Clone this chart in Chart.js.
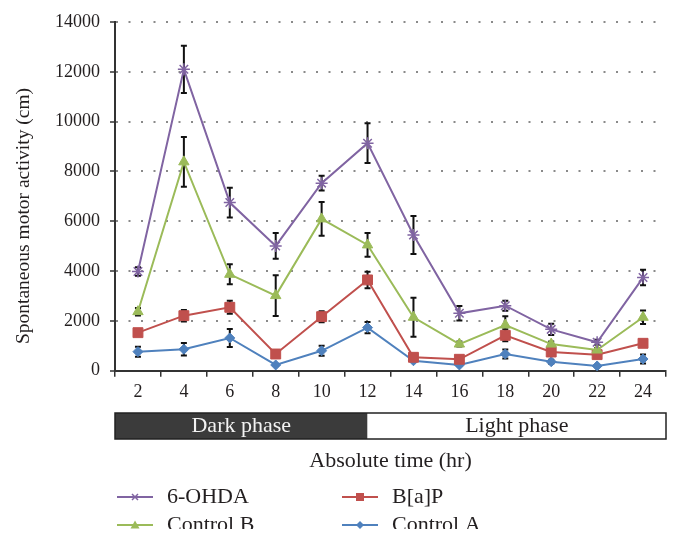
<!DOCTYPE html>
<html>
<head>
<meta charset="utf-8">
<script src="https://cdn.jsdelivr.net/npm/chart.js@4/dist/chart.umd.min.js"></script>
<style>
html,body{margin:0;padding:0;background:#fff;}
#c{display:block;}
</style>
</head>
<body>
<canvas id="c" width="680" height="543"></canvas>
<script>
const hours = ['2','4','6','8','10','12','14','16','18','20','22','24'];
const ohda      = [3980, 12100, 6750, 5010, 7530, 9135, 5450, 2305, 2610, 1660, 1140, 3740];
const ohdaErr   = [170, 950, 600, 520, 300, 800, 760, 290, 200, 230, 100, 310];
const controlB    = [2370, 8385, 3870, 3015, 6095, 5050, 2145, 1070, 1835, 1070, 830, 2145];
const controlBErr = [150, 1000, 400, 820, 680, 480, 780, 100, 350, 100, 80, 270];
const bap      = [1527, 2210, 2545, 670, 2170, 3645, 538, 458, 1420, 750, 645, 1100];
const bapErr   = [130, 230, 260, 80, 220, 330, 50, 50, 240, 100, 80, 0];
const controlA    = [765, 860, 1315, 230, 800, 1730, 400, 230, 670, 360, 190, 470];
const controlAErr = [200, 250, 360, 40, 200, 230, 40, 40, 180, 80, 40, 180];
const yTicks = [0, 2000, 4000, 6000, 8000, 10000, 12000, 14000];
const phases = ['Dark phase', 'Light phase'];
const phaseSplit = '12';
const xTitle = 'Absolute time (hr)';
const yTitle = 'Spontaneous motor activity (cm)';

const FONT = '"Liberation Serif", "Times New Roman", serif';
const TXT = '#231f20';
const PURPLE = '#8064a2', GREEN = '#9bbb59', RED = '#c0504d', BLUE = '#4f81bd';

const errors = [ohdaErr, controlBErr, bapErr, controlAErr];

const errorBars = {
  id: 'errorBars',
  beforeDatasetsDraw(chart) {
    const ctx = chart.ctx, y = chart.scales.y;
    ctx.save();
    ctx.strokeStyle = '#111';
    ctx.lineWidth = 2;
    chart.data.datasets.forEach((ds, i) => {
      const meta = chart.getDatasetMeta(i);
      ds.data.forEach((v, j) => {
        const e = errors[i][j];
        if (!e) return;
        const px = meta.data[j].x;
        const t = y.getPixelForValue(v + e), b = y.getPixelForValue(v - e);
        ctx.beginPath();
        ctx.moveTo(px, t); ctx.lineTo(px, b);
        ctx.moveTo(px - 3, t); ctx.lineTo(px + 3, t);
        ctx.moveTo(px - 3, b); ctx.lineTo(px + 3, b);
        ctx.stroke();
      });
    });
    ctx.restore();
  }
};

function marker(ctx, style, x, y, r, color) {
  ctx.save();
  ctx.fillStyle = color; ctx.strokeStyle = color; ctx.lineWidth = 1.5;
  ctx.beginPath();
  if (style === 'cross') {
    ctx.moveTo(x - r, y - r); ctx.lineTo(x + r, y + r);
    ctx.moveTo(x - r, y + r); ctx.lineTo(x + r, y - r);
    ctx.stroke();
  } else if (style === 'rect') {
    ctx.fillRect(x - r, y - r, 2 * r, 2 * r);
  } else if (style === 'tri') {
    ctx.moveTo(x, y - r); ctx.lineTo(x + r, y + r * 0.8); ctx.lineTo(x - r, y + r * 0.8);
    ctx.closePath(); ctx.fill();
  } else if (style === 'diamond') {
    ctx.moveTo(x, y - r); ctx.lineTo(x + r, y); ctx.lineTo(x, y + r); ctx.lineTo(x - r, y);
    ctx.closePath(); ctx.fill();
  }
  ctx.restore();
}

const decorations = {
  id: 'decorations',
  afterDraw(chart) {
    const ctx = chart.ctx, xs = chart.scales.x;
    const left = xs.left, right = xs.right;
    const split = xs.getPixelForValue(hours.indexOf(phaseSplit));
    const top = 413, h = 26;
    ctx.save();
    // phase band
    ctx.fillStyle = '#3b3b3b';
    ctx.fillRect(left, top, split - left, h);
    ctx.fillStyle = '#fff';
    ctx.fillRect(split, top, right - split, h);
    ctx.strokeStyle = '#222';
    ctx.lineWidth = 1.5;
    ctx.strokeRect(left, top, right - left, h);
    ctx.font = '22px ' + FONT;
    ctx.textAlign = 'center';
    ctx.textBaseline = 'middle';
    ctx.fillStyle = '#f2f2f2';
    ctx.fillText(phases[0], (left + split) / 2, top + h / 2);
    ctx.fillStyle = TXT;
    ctx.fillText(phases[1], (split + right) / 2, top + h / 2);
    // x title
    ctx.fillText(xTitle, (left + right) / 2, 461);
    // y title
    ctx.save();
    ctx.translate(24, 216);
    ctx.rotate(-Math.PI / 2);
    ctx.font = '19.5px ' + FONT;
    ctx.fillText(yTitle, 0, 0);
    ctx.restore();
    // legend
    const items = [
      {label: chart.data.datasets[0].label, color: PURPLE, m: 'cross', r: 3, x: 117, y: 497},
      {label: chart.data.datasets[2].label, color: RED, m: 'rect', r: 4, x: 342, y: 497},
      {label: chart.data.datasets[1].label, color: GREEN, m: 'tri', r: 4.5, x: 117, y: 525},
      {label: chart.data.datasets[3].label, color: BLUE, m: 'diamond', r: 4, x: 342, y: 525}
    ];
    items.forEach(it => {
      ctx.strokeStyle = it.color; ctx.lineWidth = 2;
      ctx.beginPath(); ctx.moveTo(it.x, it.y); ctx.lineTo(it.x + 36, it.y); ctx.stroke();
      marker(ctx, it.m, it.x + 18, it.y, it.r, it.color);
      ctx.fillStyle = TXT;
      ctx.textAlign = 'left';
      ctx.font = '22px ' + FONT;
      ctx.fillText(it.label, it.x + 50, it.y);
    });
    // image is cropped at the bottom
    ctx.fillStyle = '#fff';
    ctx.fillRect(0, 529, chart.width, chart.height - 529);
    ctx.restore();
  }
};

new Chart(document.getElementById('c'), {
  type: 'line',
  data: {
    labels: hours,
    datasets: [
      {label: '6-OHDA', data: ohda, borderColor: PURPLE, backgroundColor: PURPLE, pointStyle: 'star', pointRadius: 6, pointBorderWidth: 1.5},
      {label: 'Control B', data: controlB, borderColor: GREEN, backgroundColor: GREEN, pointStyle: 'triangle', pointRadius: 6, pointBorderWidth: 1},
      {label: 'B[a]P', data: bap, borderColor: RED, backgroundColor: RED, pointStyle: 'rect', pointRadius: 7, pointBorderWidth: 1},
      {label: 'Control A', data: controlA, borderColor: BLUE, backgroundColor: BLUE, pointStyle: 'rectRot', pointRadius: 5, pointBorderWidth: 1}
    ].map(d => Object.assign(d, {borderWidth: 2, tension: 0, fill: false}))
  },
  options: {
    responsive: false,
    animation: false,
    devicePixelRatio: 1,
    layout: {padding: {left: 0, right: 14, top: 22, bottom: 0}},
    plugins: {legend: {display: false}, tooltip: {enabled: false}},
    scales: {
      x: {
        offset: true,
        grid: {offset: true, drawOnChartArea: false, drawTicks: true, tickLength: 6, color: '#333', lineWidth: 1.5},
        border: {color: '#333', width: 2},
        ticks: {font: {family: FONT, size: 18}, color: TXT, padding: 5, maxRotation: 0, autoSkip: false},
        afterFit(s) { s.height = 543 - 370.7; }
      },
      y: {
        min: 0, max: 14000,
        afterBuildTicks(s) { s.ticks = yTicks.map(v => ({value: v})); },
        ticks: {font: {family: FONT, size: 18}, color: TXT, padding: 10, callback: v => String(v)},
        grid: {color: '#8a8a8a', lineWidth: 2, tickLength: 5, tickColor: '#333', tickWidth: 1.5, drawTicks: true},
        border: {color: '#333', width: 2, dash: [2, 10.5]},
        afterFit(s) { s.width = 115; }
      }
    }
  },
  plugins: [errorBars, decorations]
});
</script>
</body>
</html>
